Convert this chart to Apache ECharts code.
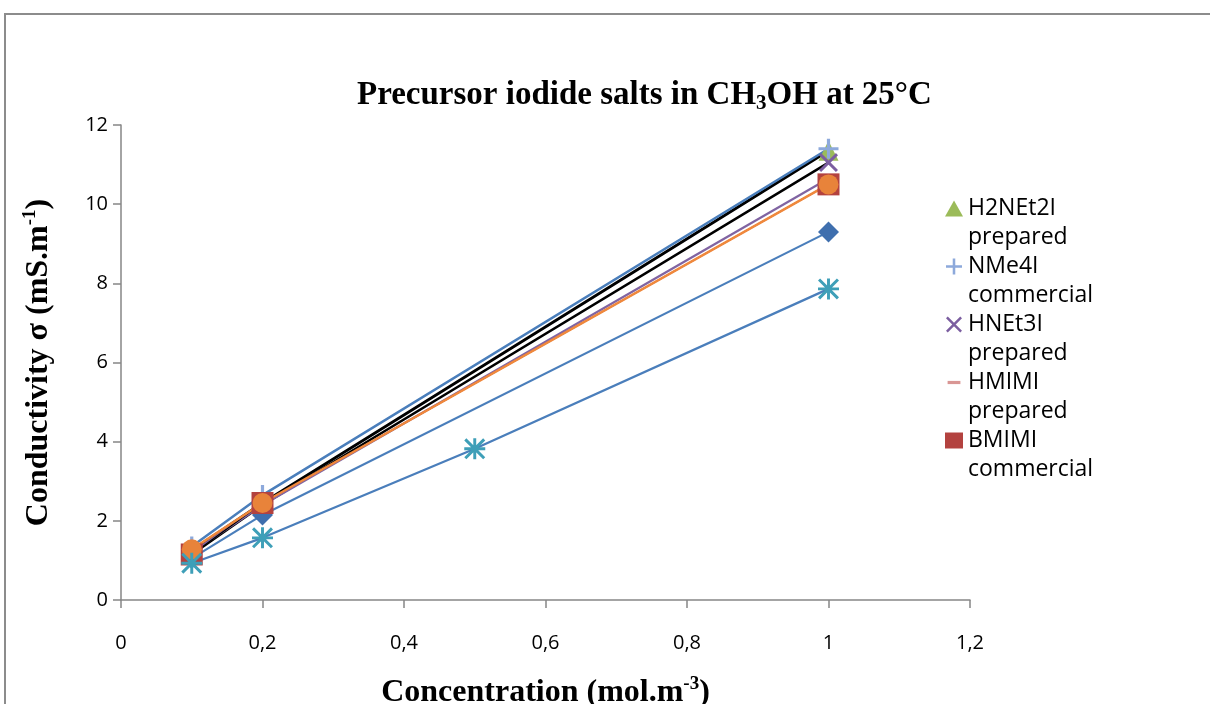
<!DOCTYPE html>
<html>
<head>
<meta charset="utf-8">
<script src="https://cdn.jsdelivr.net/npm/echarts@6/dist/echarts.min.js"></script>
<style>
  html, body { margin: 0; padding: 0; background: #ffffff; }
  #chart { width: 1210px; height: 704px; }
</style>
</head>
<body>
<div id="chart"></div>
<script>
// ---- Data ----
const xTickLabels = ['0', '0,2', '0,4', '0,6', '0,8', '1', '1,2'];
const yTickLabels = ['0', '2', '4', '6', '8', '10', '12'];

const conc3 = [0.1, 0.2, 1.0];
const conc4 = [0.1, 0.2, 0.5, 1.0];

const seriesNames = ['H2NEt2I prepared', 'NMe4I commercial', 'HNEt3I prepared', 'HMIMI prepared', 'BMIMI commercial', 'Series6', 'Series7', 'Series8'];

const h2net2i = [1.25, 2.45, 11.35];
const nme4i = [1.35, 2.65, 11.4];
const hnet3i = [1.15, 2.4, 11.05];
const hmimi = [1.2, 2.4, 10.65];
const bmimi = [1.15, 2.45, 10.5];
const series6 = [1.05, 2.15, 9.3];
const series7 = [0.93, 1.57, 3.82, 7.86];
const series8 = [1.28, 2.45, 10.5];

// ---- Symbols ----
const plusPath = 'path://M4.2,0h1.6v10h-1.6z M0,4.2h10v1.6h-10z';
const crossPath = 'path://M0,1.1L1.1,0L10,8.9L8.9,10z M8.9,0L10,1.1L1.1,10L0,8.9z';
const starPath = 'path://M4.3,0h1.4v10h-1.4z M0,4.3h10v1.4h-10z M0,1L1,0L10,9L9,10z M9,0L10,1L1,10L0,9z';
const dashPath = 'path://M0,0M10,10M1,4h8v2h-8z';

function pts(xs, ys) { return xs.map((x, i) => [x, ys[i]]); }

function mk(name, xs, ys, symbol, size, markerColor, lineColor, lineWidth) {
  return {
    name: name,
    type: 'line',
    data: pts(xs, ys),
    symbol: symbol,
    symbolSize: size,
    showAllSymbol: true,
    itemStyle: { color: markerColor },
    lineStyle: { color: lineColor, width: lineWidth },
    emphasis: { disabled: true },
    animation: false
  };
}

const serif = '"Liberation Serif", "Times New Roman", serif';
const sans = '"Open Sans", "Liberation Sans", sans-serif';

const chart = echarts.init(document.getElementById('chart'), null, { renderer: 'canvas' });

chart.setOption({
  backgroundColor: '#ffffff',
  animation: false,
  title: {
    text: '{a|Precursor iodide salts in CH}{b|3}{a|OH at 25°C}',
    left: 352,
    top: 72,
    textStyle: {
      rich: {
        a: { fontFamily: serif, fontWeight: 'bold', fontSize: 33, color: '#000', lineHeight: 37 },
        b: { fontFamily: serif, fontWeight: 'bold', fontSize: 21, color: '#000', verticalAlign: 'bottom', lineHeight: 20 }
      }
    }
  },
  graphic: [
    { type: 'rect', silent: true, shape: { x: 5, y: 14, width: 1400, height: 900 },
      style: { fill: 'none', stroke: '#8c8c8c', lineWidth: 2 } }
  ],
  grid: { left: 121, right: 240, top: 125, bottom: 104, containLabel: false, outerBoundsMode: 'none' },
  legend: {
    left: 945,
    top: 165,
    orient: 'vertical',
    padding: 0,
    itemGap: -29,
    itemWidth: 18,
    itemHeight: 16,
    selectedMode: false,
    data: [
      { name: seriesNames[0], icon: 'triangle' },
      { name: seriesNames[1], icon: plusPath },
      { name: seriesNames[2], icon: crossPath },
      { name: seriesNames[3], icon: dashPath },
      { name: seriesNames[4], icon: 'rect' }
    ],
    formatter: function (n) { return ' \n' + n.replace(' ', '\n'); },
    textStyle: { fontFamily: sans, fontSize: 23, color: '#000', lineHeight: 29 }
  },
  xAxis: {
    type: 'value',
    min: 0, max: 1.2, interval: 0.2,
    splitLine: { show: false },
    axisLine: { show: true, onZero: false, lineStyle: { color: '#868686', width: 1.5 } },
    axisTick: { show: true, inside: false, length: 8, lineStyle: { color: '#868686', width: 1.5 } },
    axisLabel: {
      margin: 33,
      fontFamily: sans, fontSize: 20, color: '#000',
      formatter: function (v, i) { return xTickLabels[i]; }
    },
    name: '{a|Concentration (mol.m}{s|-3}{a|)}',
    nameLocation: 'middle',
    nameGap: 75,
    nameTextStyle: {
      rich: {
        a: { fontFamily: serif, fontWeight: 'bold', fontSize: 32, color: '#000', lineHeight: 36 },
        s: { fontFamily: serif, fontWeight: 'bold', fontSize: 19, color: '#000', verticalAlign: 'top', lineHeight: 19 }
      }
    }
  },
  yAxis: {
    type: 'value',
    min: 0, max: 12, interval: 2,
    splitLine: { show: false },
    axisLine: { show: true, onZero: false, lineStyle: { color: '#868686', width: 1.5 } },
    axisTick: { show: true, inside: false, length: 8, lineStyle: { color: '#868686', width: 1.5 } },
    axisLabel: {
      margin: 13,
      fontFamily: sans, fontSize: 20, color: '#000',
      formatter: function (v, i) { return yTickLabels[i]; }
    },
    name: '{a|Conductivity σ (mS.m}{s|-1}{a|)}',
    nameLocation: 'middle',
    nameGap: 64,
    nameTextStyle: {
      rich: {
        a: { fontFamily: serif, fontWeight: 'bold', fontSize: 32, color: '#000', lineHeight: 36 },
        s: { fontFamily: serif, fontWeight: 'bold', fontSize: 19, color: '#000', verticalAlign: 'top', lineHeight: 19 }
      }
    }
  },
  series: [
    mk(seriesNames[5], conc3, series6, 'diamond', 21, '#3F6FAE', '#4A7EBB', 2.2),
    mk(seriesNames[0], conc3, h2net2i, 'triangle', 20, '#9BBB59', '#000000', 2.8),
    mk(seriesNames[1], conc3, nme4i, plusPath, 20, '#8DA9DB', '#4A7EBB', 2.5),
    mk(seriesNames[2], conc3, hnet3i, crossPath, 19, '#7B5EA0', '#000000', 2.5),
    mk(seriesNames[3], conc3, hmimi, dashPath, 14, '#D99694', '#8064A2', 2.2),
    mk(seriesNames[4], conc3, bmimi, 'rect', 22, '#B3423F', '#000000', 1.2),
    mk(seriesNames[7], conc3, series8, 'circle', 20, '#E8833A', '#F0883C', 2.5),
    mk(seriesNames[6], conc4, series7, starPath, 21, '#3E9FB8', '#4A7EBB', 2.2)
  ]
});
</script>
</body>
</html>
